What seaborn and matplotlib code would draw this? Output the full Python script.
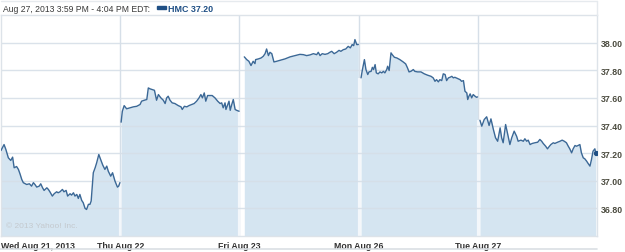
import numpy as np
import pandas as pd
import matplotlib
matplotlib.use("Agg")
import matplotlib.pyplot as plt
import seaborn as sns
from matplotlib.lines import Line2D
from matplotlib.patches import Rectangle

# ---------------- data ----------------
day_labels = ["Wed Aug 21, 2013", "Thu Aug 22", "Fri Aug 23", "Mon Aug 26", "Tue Aug 27"]
y_ticks = [36.80, 37.00, 37.20, 37.40, 37.60, 37.80, 38.00]
y_tick_labels = ["36.80", "37.00", "37.20", "37.40", "37.60", "37.80", "38.00"]
header_text = "Aug 27, 2013 3:59 PM - 4:04 PM EDT:"
legend_text = "HMC 37.20"
copyright_text = "\u00a9 2013 Yahoo! Inc."

# minutes since 9:30 open, price
wed_min = [0, 10, 16, 24, 32, 38, 43, 51, 57, 62, 68, 73, 84, 93, 100, 106, 111, 117, 125, 130,
           136, 141, 150, 155, 160, 168, 174, 182, 187, 193, 201, 206, 213, 218, 226, 231, 237, 242,
           248, 253, 258, 264, 269, 275, 280, 286, 291, 295, 302, 308, 313, 320, 326, 333, 340, 346,
           351, 359, 365, 373, 381, 385, 389]
wed_px = [37.219, 37.262, 37.226, 37.166, 37.147, 37.171, 37.094, 37.103, 37.082, 37.051, 37.009,
          36.986, 36.973, 36.978, 36.961, 36.986, 36.973, 36.954, 36.961, 36.978, 36.949, 36.930,
          36.949, 36.937, 36.920, 36.889, 36.906, 36.920, 36.913, 36.920, 36.937, 36.920, 36.930,
          36.889, 36.906, 36.896, 36.913, 36.889, 36.901, 36.872, 36.901, 36.858, 36.841, 36.800,
          36.792, 36.829, 36.829, 36.853, 37.058, 37.094, 37.130, 37.190, 37.154, 37.113, 37.082,
          37.106, 37.069, 37.033, 37.058, 36.997, 36.954, 36.961, 36.986]

thu_min = [3, 7, 13, 21, 32, 43, 54, 65, 70, 79, 87, 92, 98, 105, 112, 119, 125, 133, 141, 147,
           152, 157, 163, 170, 179, 190, 199, 203, 210, 218, 225, 234, 242, 250, 258, 264, 269,
           275, 280, 286, 294, 301, 310, 319, 327, 332, 337, 343, 346, 352, 356, 360, 365, 370,
           376, 381, 389]
thu_px = [37.424, 37.503, 37.544, 37.521, 37.528, 37.535, 37.539, 37.552, 37.576, 37.583, 37.588,
          37.672, 37.665, 37.660, 37.655, 37.583, 37.624, 37.600, 37.583, 37.559, 37.600, 37.612,
          37.583, 37.564, 37.559, 37.544, 37.535, 37.516, 37.539, 37.535, 37.544, 37.552, 37.559,
          37.576, 37.600, 37.624, 37.600, 37.636, 37.576, 37.617, 37.617, 37.617, 37.600, 37.576,
          37.559, 37.564, 37.528, 37.564, 37.516, 37.552, 37.576, 37.510, 37.552, 37.588, 37.516,
          37.510, 37.503]

fri_min = [16, 24, 31, 38, 45, 51, 53, 62, 71, 78, 84, 89, 95, 100, 106, 113, 122, 133, 149, 166,
           182, 198, 209, 220, 231, 242, 253, 258, 264, 271, 280, 289, 296, 302, 310, 318, 326,
           332, 340, 348, 356, 363, 369, 374, 378, 384, 389]
fri_px = [37.897, 37.877, 37.865, 37.834, 37.865, 37.848, 37.877, 37.882, 37.889, 37.901, 37.920,
          37.954, 37.906, 37.930, 37.920, 37.860, 37.865, 37.872, 37.882, 37.897, 37.906, 37.915,
          37.913, 37.906, 37.911, 37.920, 37.913, 37.930, 37.906, 37.920, 37.915, 37.920, 37.930,
          37.937, 37.920, 37.930, 37.944, 37.937, 37.949, 37.954, 37.973, 37.962, 37.986, 37.978,
          38.022, 37.986, 37.986]

mon_min = [8, 12, 19, 24, 30, 34, 41, 45, 49, 54, 58, 64, 70, 76, 81, 86, 92, 95, 100, 106, 110,
           117, 125, 135, 146, 154, 160, 165, 171, 179, 184, 193, 204, 215, 226, 237, 244, 250,
           255, 261, 266, 272, 277, 283, 288, 294, 299, 305, 310, 315, 324, 332, 337, 343, 348,
           354, 357, 361, 365, 370, 375, 381, 386, 389]
mon_px = [37.745, 37.798, 37.877, 37.805, 37.769, 37.788, 37.792, 37.821, 37.805, 37.841, 37.781,
          37.774, 37.788, 37.781, 37.792, 37.781, 37.805, 37.829, 37.798, 37.926, 37.913, 37.894,
          37.889, 37.877, 37.860, 37.846, 37.817, 37.788, 37.792, 37.805, 37.792, 37.788, 37.788,
          37.774, 37.764, 37.756, 37.745, 37.720, 37.732, 37.716, 37.732, 37.725, 37.774, 37.769,
          37.725, 37.745, 37.749, 37.756, 37.745, 37.749, 37.740, 37.732, 37.720, 37.725, 37.648,
          37.636, 37.588, 37.612, 37.629, 37.600, 37.624, 37.612, 37.604, 37.607]

tue_min = [7, 13, 21, 29, 37, 43, 51, 58, 65, 73, 78, 83, 91, 98, 105, 111, 119, 127, 132, 141,
           149, 154, 160, 165, 171, 178, 187, 196, 203, 209, 214, 222, 228, 233, 239, 247, 252,
           261, 269, 276, 283, 290, 296, 301, 307, 312, 318, 323, 328, 334, 339, 345, 350, 356,
           361, 367, 372, 377, 383, 386]
tue_px = [37.438, 37.395, 37.443, 37.463, 37.400, 37.448, 37.371, 37.311, 37.286, 37.383, 37.311,
          37.275, 37.407, 37.335, 37.262, 37.311, 37.359, 37.322, 37.286, 37.294, 37.286, 37.304,
          37.286, 37.294, 37.262, 37.270, 37.275, 37.279, 37.299, 37.286, 37.270, 37.250, 37.231,
          37.246, 37.262, 37.275, 37.270, 37.279, 37.286, 37.294, 37.286, 37.275, 37.250, 37.231,
          37.202, 37.231, 37.255, 37.250, 37.255, 37.262, 37.202, 37.166, 37.159, 37.142, 37.125,
          37.106, 37.154, 37.214, 37.231, 37.200]

day_minutes = [wed_min, thu_min, fri_min, mon_min, tue_min]
day_prices = [wed_px, thu_px, fri_px, mon_px, tue_px]
session_len = 390
y_low, y_high = 36.6, 38.2

frames = []
for i, (m, p) in enumerate(zip(day_minutes, day_prices)):
    frames.append(pd.DataFrame({"x": i + np.asarray(m) / session_len,
                                "price": p, "day": i}))
df = pd.concat(frames, ignore_index=True)

# ---------------- style ----------------
sns.set_theme(style="white")
plt.rcParams["font.family"] = ["Liberation Sans", "DejaVu Sans"]

line_c = "#3b6896"
fill_c = "#d5e5f1"
grid_c = "#d6dfe8"
frame_c = "#dde3e9"

W, H = 625, 253
fig = plt.figure(figsize=(W / 100, H / 100), dpi=100)
fig.patch.set_facecolor("white")
ax = fig.add_axes([1 / W, 1 - 237 / H, 596 / W, 221 / H])
ax.set_facecolor("white")

# vertical day separators (below fill)
for b in range(1, len(day_labels)):
    ax.axvline(b, color=grid_c, lw=1, zorder=0.5)

for i, g in df.groupby("day"):
    ax.fill_between(g["x"], g["price"], y_low, color=fill_c, lw=0, zorder=1)

# white separator inside the filled area
for b in range(1, len(day_labels)):
    top = min(day_prices[b - 1][-1], day_prices[b][0])
    ax.vlines(b, y_low, top, color="#f3f7fb", lw=1.6, zorder=1.5)

for yv in y_ticks:
    ax.axhline(yv, color=grid_c, lw=1, zorder=2, alpha=0.9)

sns.lineplot(data=df, x="x", y="price", units="day", estimator=None,
             color=line_c, lw=1.0, ax=ax, zorder=3, legend=False)

# last point marker
ax.plot([df["x"].iloc[-1]], [df["price"].iloc[-1]], "o", ms=2.8, color="#1f4f85", zorder=4)

ax.set_xlim(0, len(day_labels))
ax.set_ylim(y_low, y_high)
ax.set_xticks(range(len(day_labels)))
ax.set_xticklabels(day_labels, fontsize=6.3, fontweight="bold", color="#333333")
ax.get_xticklabels()[0].set_horizontalalignment("left")
ax.yaxis.tick_right()
ax.set_yticks(y_ticks)
ax.set_yticklabels(y_tick_labels, fontsize=6.3, fontweight="bold", color="#4b4b3f")
ax.tick_params(axis="both", length=0)
ax.tick_params(axis="x", pad=3.5)
ax.tick_params(axis="y", pad=3)
ax.set_xlabel("")
ax.set_ylabel("")
for s in ax.spines.values():
    s.set_color(frame_c)
    s.set_linewidth(1)

ax.text(0.008, 0.03, copyright_text, transform=ax.transAxes, fontsize=6,
        color="#c4c9ce", ha="left", va="bottom")

# header
fig.text(3 / W, 1 - 9 / H, header_text, fontsize=6.2, color="#3a3a3a",
         ha="left", va="center")
fig.patches.append(Rectangle((157 / W, 1 - 10 / H), 9 / W, 3 / H,
                             transform=fig.transFigure, color="#1f4f85"))
fig.text(168 / W, 1 - 9 / H, legend_text, fontsize=6.4, color="#1f4f85",
         fontweight="bold", ha="left", va="center")

# outer frame lines
fig.lines.append(Line2D([1 / W, 597 / W], [1 - 2 / H, 1 - 2 / H], transform=fig.transFigure,
                        color="#e6eaee", lw=1))
fig.lines.append(Line2D([597 / W, 597 / W], [1 - 2 / H, 1 - 16 / H], transform=fig.transFigure,
                        color="#e6eaee", lw=1))
fig.lines.append(Line2D([0, 597 / W], [1 - 250 / H, 1 - 250 / H], transform=fig.transFigure,
                        color="#dadfe4", lw=1.2))

fig.savefig("out.png", dpi=100)
